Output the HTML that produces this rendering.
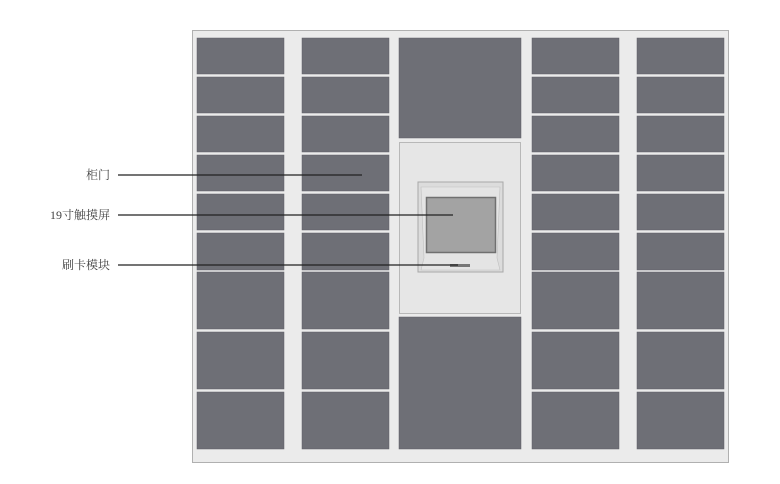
<!DOCTYPE html>
<html><head><meta charset="utf-8"><style>
body{margin:0;background:#fff;width:780px;height:479px;overflow:hidden}
</style></head><body>
<svg width="780" height="479" xmlns="http://www.w3.org/2000/svg">
<rect x="192.5" y="30.5" width="536" height="432" fill="#ebebeb" stroke="#b0b0b0"/>
<g fill="#6e6f76" stroke="#5e5f66" stroke-width="0.5">
<!-- columns -->
<g id="col">
<rect x="197" y="38" width="87" height="36"/>
<rect x="197" y="77" width="87" height="36"/>
<rect x="197" y="116" width="87" height="36"/>
<rect x="197" y="155" width="87" height="36"/>
<rect x="197" y="194" width="87" height="36"/>
<rect x="197" y="233" width="87" height="37"/>
<rect x="197" y="272" width="87" height="57"/>
<rect x="197" y="332" width="87" height="57"/>
<rect x="197" y="392" width="87" height="57"/>
</g>
<use href="#col" x="105"/>
<use href="#col" x="335"/>
<use href="#col" x="440"/>
<rect x="399" y="38" width="122" height="100"/>
<rect x="399" y="317" width="122" height="132"/>
</g>
<rect x="399.5" y="142.5" width="121" height="171" fill="#e6e6e6" stroke="#b8b8b8"/>
<polygon points="418,182 503,182 503,272 418,272" fill="#dcdcdc" stroke="#a8a8a8"/>
<polygon points="421,187 500,187 497,258 500,270 421,270 424,258" fill="#e4e4e4" stroke="#c0c0c0" stroke-width="0.6"/>
<rect x="426.5" y="197.5" width="69" height="55" fill="#a3a3a3" stroke="#707070" stroke-width="1.5"/>
<rect x="450" y="264" width="20" height="3" fill="#777"/>
<g stroke="#222" stroke-width="1.2">
<line x1="118" y1="175" x2="362" y2="175"/>
<line x1="118" y1="215" x2="453" y2="215"/>
<line x1="118" y1="265" x2="458" y2="265"/>
</g>
<g font-family="Liberation Serif, Noto Serif CJK SC, serif" font-size="12" fill="#444" text-anchor="end">
<text x="110" y="179">柜门</text>
<text x="110" y="219">19寸触摸屏</text>
<text x="110" y="269">刷卡模块</text>
</g>
</svg>
</body></html>
